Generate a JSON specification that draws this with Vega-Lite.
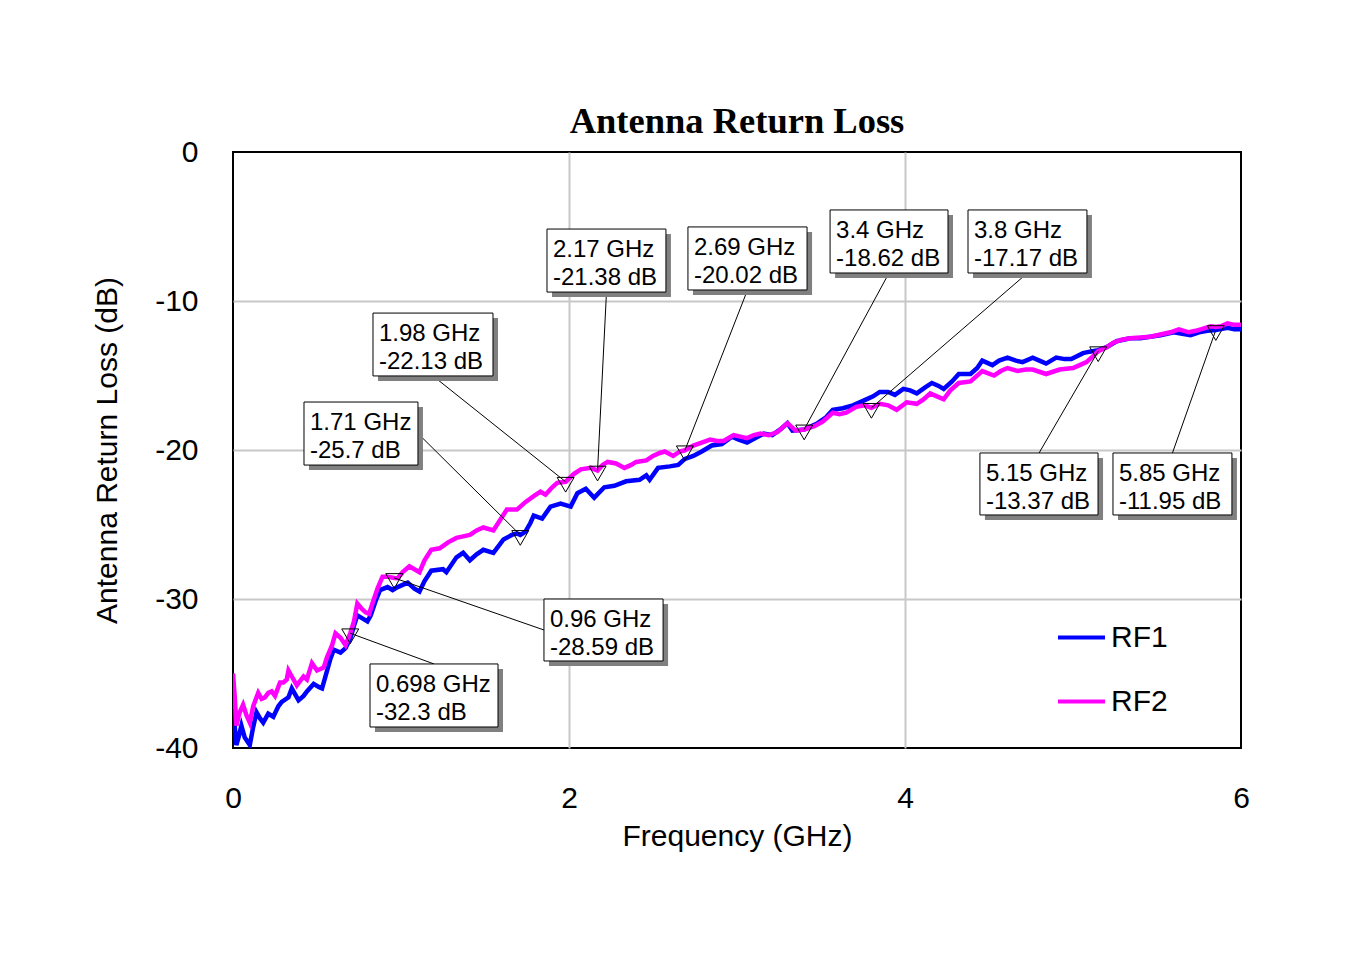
{
  "$schema": "https://vega.github.io/schema/vega-lite/v6.json",
  "autosize": "none",
  "width": 1008,
  "height": 596,
  "padding": {"left": 233, "top": 152, "right": 121, "bottom": 205},
  "background": "white",
  "title": {
    "text": "Antenna Return Loss",
    "font": "Liberation Serif",
    "fontSize": 36.5,
    "fontWeight": "bold",
    "color": "black",
    "anchor": "middle",
    "frame": "group",
    "baseline": "alphabetic",
    "offset": -32
  },
  "datasets": {
    "traces": [
      {"f": 0.00, "db": -36.1, "trace": "RF1"},
      {"f": 0.01, "db": -38.5, "trace": "RF1"},
      {"f": 0.02, "db": -39.8, "trace": "RF1"},
      {"f": 0.035, "db": -39.2, "trace": "RF1"},
      {"f": 0.05, "db": -38.5, "trace": "RF1"},
      {"f": 0.07, "db": -39.3, "trace": "RF1"},
      {"f": 0.10, "db": -39.8, "trace": "RF1"},
      {"f": 0.12, "db": -38.6, "trace": "RF1"},
      {"f": 0.14, "db": -37.6, "trace": "RF1"},
      {"f": 0.16, "db": -38.0, "trace": "RF1"},
      {"f": 0.18, "db": -38.3, "trace": "RF1"},
      {"f": 0.21, "db": -37.7, "trace": "RF1"},
      {"f": 0.24, "db": -37.9, "trace": "RF1"},
      {"f": 0.27, "db": -37.2, "trace": "RF1"},
      {"f": 0.29, "db": -36.9, "trace": "RF1"},
      {"f": 0.33, "db": -36.6, "trace": "RF1"},
      {"f": 0.35, "db": -36.0, "trace": "RF1"},
      {"f": 0.37, "db": -36.4, "trace": "RF1"},
      {"f": 0.39, "db": -36.8, "trace": "RF1"},
      {"f": 0.42, "db": -36.5, "trace": "RF1"},
      {"f": 0.44, "db": -36.2, "trace": "RF1"},
      {"f": 0.48, "db": -35.7, "trace": "RF1"},
      {"f": 0.51, "db": -35.9, "trace": "RF1"},
      {"f": 0.53, "db": -36.0, "trace": "RF1"},
      {"f": 0.56, "db": -34.8, "trace": "RF1"},
      {"f": 0.58, "db": -34.0, "trace": "RF1"},
      {"f": 0.60, "db": -33.4, "trace": "RF1"},
      {"f": 0.64, "db": -33.6, "trace": "RF1"},
      {"f": 0.67, "db": -33.3, "trace": "RF1"},
      {"f": 0.70, "db": -32.6, "trace": "RF1"},
      {"f": 0.72, "db": -31.8, "trace": "RF1"},
      {"f": 0.74, "db": -31.1, "trace": "RF1"},
      {"f": 0.77, "db": -31.3, "trace": "RF1"},
      {"f": 0.80, "db": -31.5, "trace": "RF1"},
      {"f": 0.82, "db": -31.1, "trace": "RF1"},
      {"f": 0.85, "db": -30.1, "trace": "RF1"},
      {"f": 0.875, "db": -29.4, "trace": "RF1"},
      {"f": 0.92, "db": -29.2, "trace": "RF1"},
      {"f": 0.95, "db": -29.4, "trace": "RF1"},
      {"f": 0.98, "db": -29.2, "trace": "RF1"},
      {"f": 1.04, "db": -28.9, "trace": "RF1"},
      {"f": 1.08, "db": -29.3, "trace": "RF1"},
      {"f": 1.11, "db": -29.5, "trace": "RF1"},
      {"f": 1.14, "db": -28.8, "trace": "RF1"},
      {"f": 1.18, "db": -28.1, "trace": "RF1"},
      {"f": 1.25, "db": -28.0, "trace": "RF1"},
      {"f": 1.27, "db": -28.2, "trace": "RF1"},
      {"f": 1.33, "db": -27.2, "trace": "RF1"},
      {"f": 1.37, "db": -26.9, "trace": "RF1"},
      {"f": 1.41, "db": -27.4, "trace": "RF1"},
      {"f": 1.45, "db": -27.0, "trace": "RF1"},
      {"f": 1.49, "db": -26.7, "trace": "RF1"},
      {"f": 1.55, "db": -26.9, "trace": "RF1"},
      {"f": 1.61, "db": -26.0, "trace": "RF1"},
      {"f": 1.66, "db": -25.7, "trace": "RF1"},
      {"f": 1.69, "db": -25.6, "trace": "RF1"},
      {"f": 1.71, "db": -25.7, "trace": "RF1"},
      {"f": 1.74, "db": -25.5, "trace": "RF1"},
      {"f": 1.77, "db": -24.9, "trace": "RF1"},
      {"f": 1.79, "db": -24.4, "trace": "RF1"},
      {"f": 1.84, "db": -24.6, "trace": "RF1"},
      {"f": 1.89, "db": -23.8, "trace": "RF1"},
      {"f": 1.95, "db": -23.6, "trace": "RF1"},
      {"f": 2.01, "db": -23.8, "trace": "RF1"},
      {"f": 2.05, "db": -22.9, "trace": "RF1"},
      {"f": 2.10, "db": -22.6, "trace": "RF1"},
      {"f": 2.15, "db": -23.2, "trace": "RF1"},
      {"f": 2.21, "db": -22.5, "trace": "RF1"},
      {"f": 2.27, "db": -22.4, "trace": "RF1"},
      {"f": 2.34, "db": -22.1, "trace": "RF1"},
      {"f": 2.42, "db": -22.0, "trace": "RF1"},
      {"f": 2.46, "db": -21.7, "trace": "RF1"},
      {"f": 2.48, "db": -22.0, "trace": "RF1"},
      {"f": 2.53, "db": -21.2, "trace": "RF1"},
      {"f": 2.60, "db": -21.1, "trace": "RF1"},
      {"f": 2.65, "db": -21.0, "trace": "RF1"},
      {"f": 2.69, "db": -20.6, "trace": "RF1"},
      {"f": 2.74, "db": -20.4, "trace": "RF1"},
      {"f": 2.79, "db": -20.1, "trace": "RF1"},
      {"f": 2.85, "db": -19.7, "trace": "RF1"},
      {"f": 2.91, "db": -19.6, "trace": "RF1"},
      {"f": 2.97, "db": -19.1, "trace": "RF1"},
      {"f": 3.01, "db": -19.3, "trace": "RF1"},
      {"f": 3.06, "db": -19.5, "trace": "RF1"},
      {"f": 3.11, "db": -19.2, "trace": "RF1"},
      {"f": 3.16, "db": -18.9, "trace": "RF1"},
      {"f": 3.21, "db": -19.0, "trace": "RF1"},
      {"f": 3.26, "db": -18.6, "trace": "RF1"},
      {"f": 3.30, "db": -18.2, "trace": "RF1"},
      {"f": 3.33, "db": -18.7, "trace": "RF1"},
      {"f": 3.40, "db": -18.62, "trace": "RF1"},
      {"f": 3.48, "db": -18.2, "trace": "RF1"},
      {"f": 3.53, "db": -17.8, "trace": "RF1"},
      {"f": 3.57, "db": -17.3, "trace": "RF1"},
      {"f": 3.63, "db": -17.2, "trace": "RF1"},
      {"f": 3.69, "db": -17.0, "trace": "RF1"},
      {"f": 3.73, "db": -16.8, "trace": "RF1"},
      {"f": 3.77, "db": -16.6, "trace": "RF1"},
      {"f": 3.81, "db": -16.4, "trace": "RF1"},
      {"f": 3.85, "db": -16.1, "trace": "RF1"},
      {"f": 3.90, "db": -16.1, "trace": "RF1"},
      {"f": 3.94, "db": -16.3, "trace": "RF1"},
      {"f": 3.99, "db": -15.9, "trace": "RF1"},
      {"f": 4.03, "db": -16.0, "trace": "RF1"},
      {"f": 4.07, "db": -16.2, "trace": "RF1"},
      {"f": 4.12, "db": -15.8, "trace": "RF1"},
      {"f": 4.16, "db": -15.5, "trace": "RF1"},
      {"f": 4.20, "db": -15.7, "trace": "RF1"},
      {"f": 4.23, "db": -15.9, "trace": "RF1"},
      {"f": 4.28, "db": -15.4, "trace": "RF1"},
      {"f": 4.32, "db": -14.9, "trace": "RF1"},
      {"f": 4.39, "db": -14.9, "trace": "RF1"},
      {"f": 4.43, "db": -14.5, "trace": "RF1"},
      {"f": 4.46, "db": -14.0, "trace": "RF1"},
      {"f": 4.52, "db": -14.3, "trace": "RF1"},
      {"f": 4.56, "db": -14.0, "trace": "RF1"},
      {"f": 4.61, "db": -13.8, "trace": "RF1"},
      {"f": 4.66, "db": -14.0, "trace": "RF1"},
      {"f": 4.70, "db": -14.1, "trace": "RF1"},
      {"f": 4.76, "db": -13.8, "trace": "RF1"},
      {"f": 4.80, "db": -14.0, "trace": "RF1"},
      {"f": 4.84, "db": -14.2, "trace": "RF1"},
      {"f": 4.90, "db": -13.8, "trace": "RF1"},
      {"f": 4.95, "db": -13.9, "trace": "RF1"},
      {"f": 4.99, "db": -13.9, "trace": "RF1"},
      {"f": 5.06, "db": -13.5, "trace": "RF1"},
      {"f": 5.10, "db": -13.4, "trace": "RF1"},
      {"f": 5.15, "db": -13.3, "trace": "RF1"},
      {"f": 5.20, "db": -13.1, "trace": "RF1"},
      {"f": 5.26, "db": -12.7, "trace": "RF1"},
      {"f": 5.34, "db": -12.5, "trace": "RF1"},
      {"f": 5.40, "db": -12.5, "trace": "RF1"},
      {"f": 5.46, "db": -12.4, "trace": "RF1"},
      {"f": 5.52, "db": -12.3, "trace": "RF1"},
      {"f": 5.56, "db": -12.2, "trace": "RF1"},
      {"f": 5.60, "db": -12.1, "trace": "RF1"},
      {"f": 5.65, "db": -12.2, "trace": "RF1"},
      {"f": 5.70, "db": -12.3, "trace": "RF1"},
      {"f": 5.75, "db": -12.1, "trace": "RF1"},
      {"f": 5.80, "db": -12.0, "trace": "RF1"},
      {"f": 5.85, "db": -11.95, "trace": "RF1"},
      {"f": 5.92, "db": -11.8, "trace": "RF1"},
      {"f": 5.96, "db": -11.9, "trace": "RF1"},
      {"f": 6.00, "db": -11.9, "trace": "RF1"},

      {"f": 0.00, "db": -35.0, "trace": "RF2"},
      {"f": 0.01, "db": -36.5, "trace": "RF2"},
      {"f": 0.02, "db": -38.5, "trace": "RF2"},
      {"f": 0.04, "db": -37.6, "trace": "RF2"},
      {"f": 0.06, "db": -37.1, "trace": "RF2"},
      {"f": 0.08, "db": -37.8, "trace": "RF2"},
      {"f": 0.10, "db": -38.3, "trace": "RF2"},
      {"f": 0.12, "db": -37.2, "trace": "RF2"},
      {"f": 0.15, "db": -36.3, "trace": "RF2"},
      {"f": 0.17, "db": -36.7, "trace": "RF2"},
      {"f": 0.19, "db": -36.6, "trace": "RF2"},
      {"f": 0.21, "db": -36.3, "trace": "RF2"},
      {"f": 0.23, "db": -36.2, "trace": "RF2"},
      {"f": 0.25, "db": -36.5, "trace": "RF2"},
      {"f": 0.28, "db": -35.6, "trace": "RF2"},
      {"f": 0.30, "db": -35.6, "trace": "RF2"},
      {"f": 0.32, "db": -35.4, "trace": "RF2"},
      {"f": 0.33, "db": -34.8, "trace": "RF2"},
      {"f": 0.35, "db": -35.2, "trace": "RF2"},
      {"f": 0.38, "db": -35.8, "trace": "RF2"},
      {"f": 0.40, "db": -35.5, "trace": "RF2"},
      {"f": 0.42, "db": -35.2, "trace": "RF2"},
      {"f": 0.44, "db": -35.4, "trace": "RF2"},
      {"f": 0.47, "db": -34.3, "trace": "RF2"},
      {"f": 0.50, "db": -34.8, "trace": "RF2"},
      {"f": 0.52, "db": -34.7, "trace": "RF2"},
      {"f": 0.54, "db": -34.6, "trace": "RF2"},
      {"f": 0.56, "db": -33.9, "trace": "RF2"},
      {"f": 0.59, "db": -33.1, "trace": "RF2"},
      {"f": 0.61, "db": -32.3, "trace": "RF2"},
      {"f": 0.64, "db": -32.6, "trace": "RF2"},
      {"f": 0.67, "db": -33.1, "trace": "RF2"},
      {"f": 0.698, "db": -32.3, "trace": "RF2"},
      {"f": 0.72, "db": -31.5, "trace": "RF2"},
      {"f": 0.74, "db": -30.3, "trace": "RF2"},
      {"f": 0.77, "db": -30.7, "trace": "RF2"},
      {"f": 0.79, "db": -30.9, "trace": "RF2"},
      {"f": 0.81, "db": -31.0, "trace": "RF2"},
      {"f": 0.83, "db": -30.3, "trace": "RF2"},
      {"f": 0.86, "db": -29.3, "trace": "RF2"},
      {"f": 0.89, "db": -28.5, "trace": "RF2"},
      {"f": 0.92, "db": -28.5, "trace": "RF2"},
      {"f": 0.96, "db": -28.59, "trace": "RF2"},
      {"f": 0.98, "db": -28.6, "trace": "RF2"},
      {"f": 1.01, "db": -28.2, "trace": "RF2"},
      {"f": 1.05, "db": -27.8, "trace": "RF2"},
      {"f": 1.08, "db": -28.0, "trace": "RF2"},
      {"f": 1.11, "db": -28.2, "trace": "RF2"},
      {"f": 1.14, "db": -27.4, "trace": "RF2"},
      {"f": 1.18, "db": -26.7, "trace": "RF2"},
      {"f": 1.23, "db": -26.6, "trace": "RF2"},
      {"f": 1.28, "db": -26.2, "trace": "RF2"},
      {"f": 1.33, "db": -25.9, "trace": "RF2"},
      {"f": 1.37, "db": -25.8, "trace": "RF2"},
      {"f": 1.41, "db": -25.7, "trace": "RF2"},
      {"f": 1.45, "db": -25.4, "trace": "RF2"},
      {"f": 1.49, "db": -25.2, "trace": "RF2"},
      {"f": 1.55, "db": -25.4, "trace": "RF2"},
      {"f": 1.59, "db": -24.7, "trace": "RF2"},
      {"f": 1.63, "db": -24.0, "trace": "RF2"},
      {"f": 1.69, "db": -24.0, "trace": "RF2"},
      {"f": 1.74, "db": -23.5, "trace": "RF2"},
      {"f": 1.79, "db": -23.1, "trace": "RF2"},
      {"f": 1.83, "db": -22.8, "trace": "RF2"},
      {"f": 1.86, "db": -23.0, "trace": "RF2"},
      {"f": 1.90, "db": -22.5, "trace": "RF2"},
      {"f": 1.93, "db": -22.2, "trace": "RF2"},
      {"f": 1.98, "db": -22.13, "trace": "RF2"},
      {"f": 2.03, "db": -21.6, "trace": "RF2"},
      {"f": 2.07, "db": -21.3, "trace": "RF2"},
      {"f": 2.13, "db": -21.2, "trace": "RF2"},
      {"f": 2.17, "db": -21.38, "trace": "RF2"},
      {"f": 2.20, "db": -21.0, "trace": "RF2"},
      {"f": 2.23, "db": -20.8, "trace": "RF2"},
      {"f": 2.28, "db": -20.9, "trace": "RF2"},
      {"f": 2.33, "db": -21.2, "trace": "RF2"},
      {"f": 2.37, "db": -21.0, "trace": "RF2"},
      {"f": 2.40, "db": -20.8, "trace": "RF2"},
      {"f": 2.46, "db": -20.7, "trace": "RF2"},
      {"f": 2.50, "db": -20.4, "trace": "RF2"},
      {"f": 2.54, "db": -20.2, "trace": "RF2"},
      {"f": 2.57, "db": -20.1, "trace": "RF2"},
      {"f": 2.62, "db": -20.4, "trace": "RF2"},
      {"f": 2.66, "db": -20.1, "trace": "RF2"},
      {"f": 2.69, "db": -20.02, "trace": "RF2"},
      {"f": 2.74, "db": -19.7, "trace": "RF2"},
      {"f": 2.79, "db": -19.5, "trace": "RF2"},
      {"f": 2.84, "db": -19.3, "trace": "RF2"},
      {"f": 2.88, "db": -19.4, "trace": "RF2"},
      {"f": 2.92, "db": -19.4, "trace": "RF2"},
      {"f": 2.98, "db": -19.0, "trace": "RF2"},
      {"f": 3.02, "db": -19.1, "trace": "RF2"},
      {"f": 3.06, "db": -19.2, "trace": "RF2"},
      {"f": 3.10, "db": -19.0, "trace": "RF2"},
      {"f": 3.14, "db": -18.9, "trace": "RF2"},
      {"f": 3.19, "db": -19.0, "trace": "RF2"},
      {"f": 3.24, "db": -18.8, "trace": "RF2"},
      {"f": 3.30, "db": -18.2, "trace": "RF2"},
      {"f": 3.35, "db": -18.7, "trace": "RF2"},
      {"f": 3.40, "db": -18.62, "trace": "RF2"},
      {"f": 3.46, "db": -18.4, "trace": "RF2"},
      {"f": 3.51, "db": -18.1, "trace": "RF2"},
      {"f": 3.57, "db": -17.5, "trace": "RF2"},
      {"f": 3.61, "db": -17.6, "trace": "RF2"},
      {"f": 3.65, "db": -17.5, "trace": "RF2"},
      {"f": 3.71, "db": -17.1, "trace": "RF2"},
      {"f": 3.76, "db": -17.0, "trace": "RF2"},
      {"f": 3.80, "db": -17.17, "trace": "RF2"},
      {"f": 3.85, "db": -16.9, "trace": "RF2"},
      {"f": 3.90, "db": -17.0, "trace": "RF2"},
      {"f": 3.95, "db": -17.3, "trace": "RF2"},
      {"f": 4.01, "db": -16.8, "trace": "RF2"},
      {"f": 4.07, "db": -16.9, "trace": "RF2"},
      {"f": 4.11, "db": -16.6, "trace": "RF2"},
      {"f": 4.15, "db": -16.2, "trace": "RF2"},
      {"f": 4.19, "db": -16.4, "trace": "RF2"},
      {"f": 4.23, "db": -16.6, "trace": "RF2"},
      {"f": 4.27, "db": -16.0, "trace": "RF2"},
      {"f": 4.32, "db": -15.5, "trace": "RF2"},
      {"f": 4.39, "db": -15.4, "trace": "RF2"},
      {"f": 4.46, "db": -14.7, "trace": "RF2"},
      {"f": 4.53, "db": -15.0, "trace": "RF2"},
      {"f": 4.57, "db": -14.7, "trace": "RF2"},
      {"f": 4.61, "db": -14.5, "trace": "RF2"},
      {"f": 4.67, "db": -14.7, "trace": "RF2"},
      {"f": 4.72, "db": -14.6, "trace": "RF2"},
      {"f": 4.76, "db": -14.6, "trace": "RF2"},
      {"f": 4.84, "db": -14.9, "trace": "RF2"},
      {"f": 4.92, "db": -14.6, "trace": "RF2"},
      {"f": 5.00, "db": -14.5, "trace": "RF2"},
      {"f": 5.04, "db": -14.3, "trace": "RF2"},
      {"f": 5.08, "db": -14.1, "trace": "RF2"},
      {"f": 5.12, "db": -13.7, "trace": "RF2"},
      {"f": 5.15, "db": -13.37, "trace": "RF2"},
      {"f": 5.20, "db": -13.1, "trace": "RF2"},
      {"f": 5.24, "db": -12.8, "trace": "RF2"},
      {"f": 5.29, "db": -12.6, "trace": "RF2"},
      {"f": 5.34, "db": -12.5, "trace": "RF2"},
      {"f": 5.40, "db": -12.45, "trace": "RF2"},
      {"f": 5.46, "db": -12.4, "trace": "RF2"},
      {"f": 5.50, "db": -12.3, "trace": "RF2"},
      {"f": 5.54, "db": -12.2, "trace": "RF2"},
      {"f": 5.58, "db": -12.1, "trace": "RF2"},
      {"f": 5.63, "db": -11.9, "trace": "RF2"},
      {"f": 5.69, "db": -12.1, "trace": "RF2"},
      {"f": 5.73, "db": -12.0, "trace": "RF2"},
      {"f": 5.76, "db": -11.9, "trace": "RF2"},
      {"f": 5.82, "db": -11.7, "trace": "RF2"},
      {"f": 5.85, "db": -11.75, "trace": "RF2"},
      {"f": 5.88, "db": -11.7, "trace": "RF2"},
      {"f": 5.92, "db": -11.5, "trace": "RF2"},
      {"f": 5.96, "db": -11.6, "trace": "RF2"},
      {"f": 6.00, "db": -11.6, "trace": "RF2"}
    ],
    "markers": [
      {"f": 0.698, "db": -32.3, "label": "0.698 GHz\n-32.3 dB", "ax": 1.1964, "ay": -34.36, "x1": 0.8155, "x2": 1.5774, "y1": -34.36, "y2": -38.59},
      {"f": 0.96, "db": -28.59, "label": "0.96 GHz\n-28.59 dB", "ax": 1.851, "ay": -32.08, "x1": 1.851, "x2": 2.560, "y1": -30.0, "y2": -34.16},
      {"f": 1.71, "db": -25.7, "label": "1.71 GHz\n-25.7 dB", "ax": 1.101, "ay": -18.89, "x1": 0.4226, "x2": 1.101, "y1": -16.78, "y2": -21.01},
      {"f": 1.98, "db": -22.13, "label": "1.98 GHz\n-22.13 dB", "ax": 1.1905, "ay": -15.03, "x1": 0.8333, "x2": 1.5476, "y1": -10.81, "y2": -15.03},
      {"f": 2.17, "db": -21.38, "label": "2.17 GHz\n-21.38 dB", "ax": 2.2232, "ay": -9.40, "x1": 1.869, "x2": 2.577, "y1": -5.17, "y2": -9.40},
      {"f": 2.69, "db": -20.02, "label": "2.69 GHz\n-20.02 dB", "ax": 3.0625, "ay": -9.26, "x1": 2.708, "x2": 3.417, "y1": -5.03, "y2": -9.26},
      {"f": 3.4, "db": -18.62, "label": "3.4 GHz\n-18.62 dB", "ax": 3.9048, "ay": -8.12, "x1": 3.554, "x2": 4.256, "y1": -3.89, "y2": -8.12},
      {"f": 3.8, "db": -17.17, "label": "3.8 GHz\n-17.17 dB", "ax": 4.729, "ay": -8.12, "x1": 4.375, "x2": 5.083, "y1": -3.89, "y2": -8.12},
      {"f": 5.15, "db": -13.37, "label": "5.15 GHz\n-13.37 dB", "ax": 4.798, "ay": -20.20, "x1": 4.446, "x2": 5.149, "y1": -20.20, "y2": -24.36},
      {"f": 5.85, "db": -11.95, "label": "5.85 GHz\n-11.95 dB", "ax": 5.592, "ay": -20.20, "x1": 5.238, "x2": 5.946, "y1": -20.20, "y2": -24.36}
    ]
  },
  "layer": [
    {
      "data": {"name": "traces"},
      "mark": {"type": "line", "strokeWidth": 4.5, "clip": true},
      "encoding": {
        "x": {
          "field": "f",
          "type": "quantitative",
          "title": "Frequency (GHz)",
          "scale": {"domain": [0, 6], "nice": false, "zero": false},
          "axis": {
            "values": [0, 2, 4, 6],
            "labelExpr": "datum.value + ''",
            "labelPadding": 35,
            "titlePadding": 8,
            "gridOpacity": {"condition": {"test": "datum.value == 0 || datum.value == 6", "value": 0}, "value": 1}
          }
        },
        "y": {
          "field": "db",
          "type": "quantitative",
          "title": "Antenna Return Loss (dB)",
          "scale": {"domain": [-40, 0], "nice": false, "zero": false},
          "axis": {
            "values": [-40, -30, -20, -10, 0],
            "labelExpr": "datum.value + ''",
            "labelPadding": 35,
            "titlePadding": 32,
            "gridOpacity": {"condition": {"test": "datum.value == 0 || datum.value == -40", "value": 0}, "value": 1}
          }
        },
        "color": {
          "field": "trace",
          "type": "nominal",
          "scale": {"domain": ["RF1", "RF2"], "range": ["#0000ff", "#ff00ff"]},
          "legend": {
            "title": null,
            "orient": "none",
            "legendX": 823,
            "legendY": 460,
            "symbolType": "stroke",
            "symbolSize": 2209,
            "symbolStrokeWidth": 4,
            "labelFont": "Liberation Sans",
            "labelFontSize": 30,
            "labelColor": "black",
            "labelOffset": 4,
            "rowPadding": 23,
            "padding": 0
          }
        }
      }
    },
    {
      "data": {"name": "markers"},
      "mark": {"type": "rule", "color": "black", "strokeWidth": 1},
      "encoding": {
        "x": {"field": "ax", "type": "quantitative", "title": "Frequency (GHz)"},
        "y": {"field": "ay", "type": "quantitative", "title": "Antenna Return Loss (dB)"},
        "x2": {"field": "f"},
        "y2": {"field": "db"}
      }
    },
    {
      "data": {"name": "markers"},
      "mark": {"type": "point", "shape": "triangle-down", "size": 289, "filled": false, "stroke": "black", "strokeWidth": 1, "opacity": 1, "yOffset": 3},
      "encoding": {
        "x": {"field": "f", "type": "quantitative", "title": "Frequency (GHz)"},
        "y": {"field": "db", "type": "quantitative", "title": "Antenna Return Loss (dB)"}
      }
    },
    {
      "data": {"name": "markers"},
      "mark": {"type": "rect", "fill": "#808080", "xOffset": 5, "x2Offset": 5, "yOffset": 5, "y2Offset": 5},
      "encoding": {
        "x": {"field": "x1", "type": "quantitative", "title": "Frequency (GHz)"},
        "x2": {"field": "x2"},
        "y": {"field": "y1", "type": "quantitative", "title": "Antenna Return Loss (dB)"},
        "y2": {"field": "y2"}
      }
    },
    {
      "data": {"name": "markers"},
      "mark": {"type": "rect", "fill": "white", "stroke": "black", "strokeWidth": 1},
      "encoding": {
        "x": {"field": "x1", "type": "quantitative", "title": "Frequency (GHz)"},
        "x2": {"field": "x2"},
        "y": {"field": "y1", "type": "quantitative", "title": "Antenna Return Loss (dB)"},
        "y2": {"field": "y2"}
      }
    },
    {
      "data": {"name": "markers"},
      "mark": {"type": "text", "align": "left", "baseline": "top", "dx": 6, "dy": 9, "font": "Liberation Sans", "fontSize": 24, "lineHeight": 28, "lineBreak": "\n", "color": "black"},
      "encoding": {
        "x": {"field": "x1", "type": "quantitative", "title": "Frequency (GHz)"},
        "y": {"field": "y1", "type": "quantitative", "title": "Antenna Return Loss (dB)"},
        "text": {"field": "label"}
      }
    }
  ],
  "config": {
    "view": {"stroke": "black", "strokeWidth": 2},
    "axis": {
      "labelFont": "Liberation Sans",
      "labelFontSize": 30,
      "labelColor": "black",
      "titleFont": "Liberation Sans",
      "titleFontSize": 30,
      "titleFontWeight": "normal",
      "titleColor": "black",
      "ticks": false,
      "tickSize": 0,
      "domain": false,
      "grid": true,
      "gridColor": "#c8c8c8",
      "gridWidth": 2,
      "labelFlush": false,
      "labelOverlap": false,
      "labelBound": false
    }
  }
}
